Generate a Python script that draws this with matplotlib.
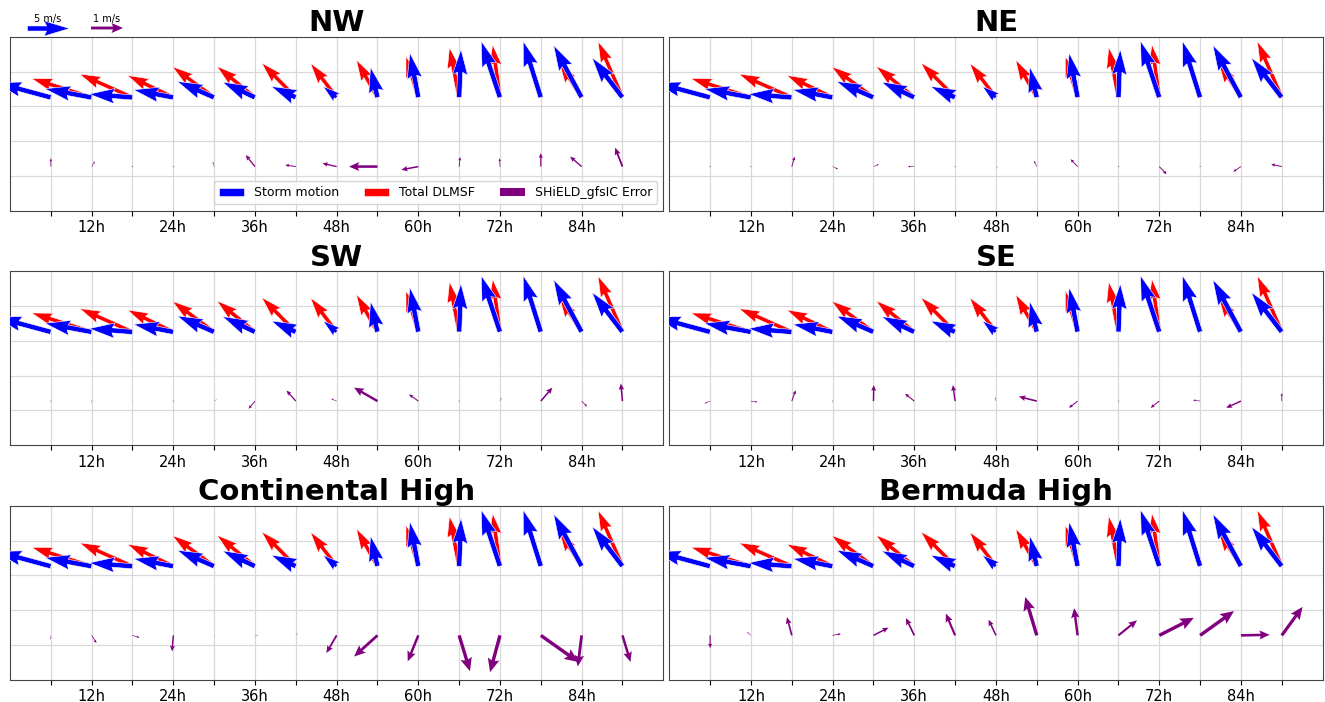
import numpy as np
import matplotlib.pyplot as plt

# forecast lead times (h)
hours = [6, 12, 18, 24, 30, 36, 42, 48, 54, 60, 66, 72, 78, 84, 90]

# storm motion (m/s)
motion_u = [-6.5, -5.55, -5.15, -4.72, -4.37, -3.85, -2.9, -1.6, -0.83, -1.0, 0.22, -2.23, -2.1, -3.33, -3.6]
motion_v = [1.75, 1.03, 0.4, 0.91, 1.9, 1.83, 1.31, 1.3, 3.6, 5.27, 5.72, 6.7, 6.7, 6.2, 4.7]

# total deep-layer mean steering flow (m/s)
dlmsf_u = [-6.5, -7.14, -6.27, -5.44, -4.96, -4.52, -4.05, -3.1, -2.5, -1.47, -1.15, -0.87, -1.95, -2.66, -2.9]
dlmsf_v = [1.75, 2.26, 2.78, 2.62, 3.65, 3.69, 4.09, 4.05, 4.45, 4.88, 5.95, 6.27, 6.3, 4.2, 6.65]

# SHiELD_gfsIC error per region (m/s)
nw_u = [0.0, 0.1, 0.02, 0.01, -0.04, -0.29, -0.33, -0.44, -0.89, -0.53, 0.03, -0.01, 0.0, -0.36, -0.23]
nw_v = [0.26, 0.16, 0.02, 0.01, 0.15, 0.36, 0.05, 0.1, 0.0, -0.1, 0.3, 0.26, 0.42, 0.31, 0.59]

ne_u = [0.02, 0.02, 0.09, 0.17, 0.17, -0.2, 0.02, 0.05, -0.09, -0.22, 0.02, 0.23, 0.02, -0.24, -0.33]
ne_v = [0.0, 0.0, 0.31, -0.08, 0.07, 0.0, 0.0, -0.05, 0.18, 0.23, 0.0, -0.24, 0.0, -0.16, 0.07]

sw_u = [0.0, 0.0, 0.0, 0.0, 0.08, -0.2, -0.29, -0.17, -0.73, -0.29, 0.0, 0.05, 0.36, 0.17, -0.05]
sw_v = [0.0, 0.0, 0.05, 0.0, 0.05, -0.24, 0.33, 0.07, 0.42, 0.21, 0.0, 0.1, 0.42, -0.17, 0.55]

se_u = [-0.17, 0.2, 0.12, 0.0, 0.01, -0.29, -0.07, -0.03, -0.56, -0.27, 0.0, -0.27, -0.22, -0.46, 0.0]
se_v = [-0.07, -0.03, 0.34, 0.0, 0.5, 0.23, 0.5, 0.12, 0.14, -0.21, 0.0, -0.21, 0.03, -0.21, 0.25]

ch_u = [-0.01, 0.15, 0.22, -0.04, 0.02, 0.1, 0.06, -0.32, -0.73, -0.33, 0.34, -0.31, 1.17, -0.12, 0.25]
ch_v = [-0.12, -0.24, -0.07, -0.5, -0.05, 0.0, 0.06, -0.55, -0.66, -0.81, -1.12, -1.15, -0.83, -0.97, -0.83]

bh_u = [0.0, -0.12, -0.15, 0.26, 0.47, -0.26, -0.29, -0.23, -0.36, -0.11, 0.58, 1.08, 1.06, 0.9, 0.65]
bh_v = [-0.4, 0.1, 0.57, 0.05, 0.24, 0.54, 0.68, 0.49, 1.2, 0.85, 0.47, 0.55, 0.76, 0.02, 0.89]

titles = ['NW', 'NE', 'SW', 'SE', 'Continental High', 'Bermuda High']
errors = [(nw_u, nw_v), (ne_u, ne_v), (sw_u, sw_v), (se_u, se_v), (ch_u, ch_v), (bh_u, bh_v)]

x = np.array(hours, dtype=float)
y_motion = np.full(len(x), 3.26)
y_err = np.full(len(x), 1.27)

fig = plt.figure(figsize=(13.25, 7.02), dpi=100)

W, H = 1325.0, 702.0
col_x = [10 / W, 669.3 / W]
row_y = [1 - 210.7 / H, 1 - 445.2 / H, 1 - 679.5 / H]
aw, ah = 653.3 / W, 173.7 / H

for k, (title, (eu, ev)) in enumerate(zip(titles, errors)):
    ax = fig.add_axes([col_x[k % 2], row_y[k // 2], aw, ah])

    qr = ax.quiver(x, y_motion, dlmsf_u, dlmsf_v, color='red', angles='uv',
                   scale_units='x', scale=0.81, width=0.0064,
                   edgecolor='white', linewidth=0.4, zorder=3, label='Total DLMSF')
    qb = ax.quiver(x, y_motion, motion_u, motion_v, color='blue', angles='uv',
                   scale_units='x', scale=0.81, width=0.0078,
                   edgecolor='white', linewidth=0.4, zorder=4, label='Storm motion')
    qp = ax.quiver(x, y_err, eu, ev, color='purple', angles='uv',
                   scale_units='x', scale=0.2127, width=0.0052,
                   headwidth=3.5, headlength=4, headaxislength=3.5,
                   minshaft=2.8, minlength=0.3,
                   zorder=3, label='SHiELD_gfsIC Error')

    ax.set_xlim(0, 96)
    ax.set_ylim(0, 5)
    ax.set_xticks(hours)
    ax.set_xticklabels([f'{h}h' if h % 12 == 0 else '' for h in hours], fontsize=10.5)
    ax.set_yticks([1, 2, 3, 4])
    ax.set_yticklabels([])
    ax.tick_params(axis='y', length=0)
    ax.grid(True, color='#d9d9d9', linewidth=0.9)
    ax.set_axisbelow(True)
    for s in ax.spines.values():
        s.set_color('#444444')
    ax.set_title(title, fontsize=21, fontweight='bold', pad=4)

    if k == 0:
        ax.legend(handles=[qb, qr, qp], loc='lower right', ncol=3, fontsize=9)
        ax.quiverkey(qb, 48 / W, 1 - 28 / H, 5, '5 m/s', coordinates='figure',
                     labelpos='N', labelsep=0.04, fontproperties={'size': 7})
        ax.quiverkey(qp, 107 / W, 1 - 28 / H, 1, '1 m/s', coordinates='figure',
                     labelpos='N', labelsep=0.04, fontproperties={'size': 7})

fig.savefig('out.png', dpi=100)
